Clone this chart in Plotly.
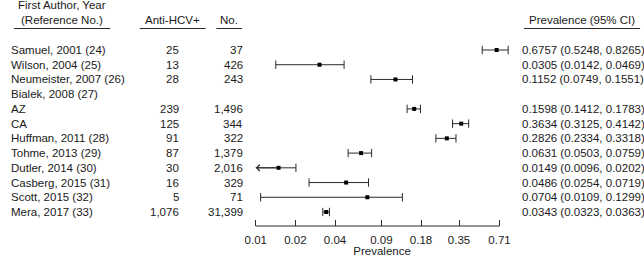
import math
import plotly.graph_objects as go

# ---------------- data ----------------
authors = ["Samuel, 2001 (24)", "Wilson, 2004 (25)", "Neumeister, 2007 (26)",
           "Bialek, 2008 (27)", "AZ", "CA", "Huffman, 2011 (28)", "Tohme, 2013 (29)",
           "Dutler, 2014 (30)", "Casberg, 2015 (31)", "Scott, 2015 (32)", "Mera, 2017 (33)"]
anti_hcv = ["25", "13", "28", "", "239", "125", "91", "87", "30", "16", "5", "1,076"]
totals = ["37", "426", "243", "", "1,496", "344", "322", "1,379", "2,016", "329", "71", "31,399"]
prev = [0.6757, 0.0305, 0.1152, None, 0.1598, 0.3634, 0.2826, 0.0631, 0.0149, 0.0486, 0.0704, 0.0343]
ci_lo = [0.5248, 0.0142, 0.0749, None, 0.1412, 0.3125, 0.2334, 0.0503, 0.0096, 0.0254, 0.0109, 0.0323]
ci_hi = [0.8265, 0.0469, 0.1551, None, 0.1783, 0.4142, 0.3318, 0.0759, 0.0202, 0.0719, 0.1299, 0.0363]
tick_vals = [0.01, 0.02, 0.04, 0.09, 0.18, 0.35, 0.71]
tick_text = ["0.01", "0.02", "0.04", "0.09", "0.18", "0.35", "0.71"]
x_min, x_max = 0.01, 0.71

# ---------------- layout geometry ----------------
W, H = 644, 258
MB = 32                      # bottom margin (axis line sits at plot bottom)
PH = H - MB                  # plot-area height
row0_px, rowN_px = 50, 212   # pixel centre of first and last row
n = len(authors)
step = (rowN_px - row0_px) / (n - 1)
y_top = -row0_px / step
y_bot = (n - 1) + (PH - rowN_px) / step

ax_left_px, ax_right_px = 250, 498
ppd = (ax_right_px - ax_left_px) / (math.log10(x_max) - math.log10(x_min))
r_lo, r_hi = math.log10(x_min) - 0.01, math.log10(0.85)
dom_l = (ax_left_px - (math.log10(x_min) - r_lo) * ppd) / W
dom_r = (ax_left_px + (r_hi - math.log10(x_min)) * ppd) / W

FONT = "Arial, Liberation Sans, sans-serif"
TXT = "#1a1a1a"
LINE = "#2a2a2a"
FS = 11.5

rows = list(range(n))

# ---------------- traces ----------------
line_x, line_y = [], []
cap_x, cap_y = [], []
arrows = []
for i in rows:
    if prev[i] is None:
        continue
    lo = max(ci_lo[i], x_min)
    line_x += [lo, ci_hi[i], None]
    line_y += [i, i, None]
    cap_x.append(ci_hi[i]); cap_y.append(i)
    if ci_lo[i] >= x_min:
        cap_x.append(ci_lo[i]); cap_y.append(i)
    else:
        arrows.append(i)

fig = go.Figure()
fig.add_trace(go.Scatter(x=line_x, y=line_y, mode="lines",
                         line=dict(color=LINE, width=1), hoverinfo="skip",
                         showlegend=False, cliponaxis=False))
fig.add_trace(go.Scatter(x=cap_x, y=cap_y, mode="markers",
                         marker=dict(symbol="line-ns", size=6,
                                     line=dict(color=LINE, width=1)),
                         hoverinfo="skip", showlegend=False, cliponaxis=False))
fig.add_trace(go.Scatter(x=[p for p in prev if p is not None],
                         y=[i for i in rows if prev[i] is not None], mode="markers",
                         marker=dict(symbol="square", size=4, color="#000"),
                         showlegend=False, cliponaxis=False))

annotations = []
for i in arrows:
    annotations.append(dict(x=math.log10(x_min), y=i, xref="x", yref="y",
                            ax=math.log10(prev[i]), ay=i, axref="x", ayref="y",
                            showarrow=True, arrowhead=4, arrowsize=1.2,
                            arrowwidth=1, arrowcolor=LINE, standoff=0, text=""))


def xp(px):
    return px / W


def yp(px):
    return 1 - px / PH


for i in rows:
    annotations.append(dict(x=xp(-1), y=i, xref="paper", yref="y", text=authors[i],
                            xanchor="left", yanchor="middle", showarrow=False))
    if anti_hcv[i]:
        annotations.append(dict(x=xp(174), y=i, xref="paper", yref="y", text=anti_hcv[i],
                                xanchor="right", yanchor="middle", showarrow=False))
    if totals[i]:
        annotations.append(dict(x=xp(239), y=i, xref="paper", yref="y", text=totals[i],
                                xanchor="right", yanchor="middle", showarrow=False))
    if prev[i] is not None:
        txt = f"{prev[i]:.4f} ({ci_lo[i]:.4f}, {ci_hi[i]:.4f})"
        annotations.append(dict(x=xp(519), y=i, xref="paper", yref="y", text=txt,
                                xanchor="left", yanchor="middle", showarrow=False))

headers = [("First Author, Year", 53, 5), ("(Reference No.)", 53, 20),
           ("Anti-HCV+", 165, 20), ("No.", 223, 20), ("Prevalence (95% CI)", 582, 20)]
for t, x, y in headers:
    annotations.append(dict(x=xp(x), y=yp(y), xref="paper", yref="paper", text=t,
                            xanchor="center", yanchor="middle", showarrow=False))

shapes = []
for x0, x1 in [(4, 102), (132, 199), (210, 236), (523, 641)]:
    shapes.append(dict(type="line", xref="paper", yref="paper", x0=xp(x0), x1=xp(x1),
                       y0=yp(28.5), y1=yp(28.5), line=dict(color=LINE, width=1)))
# x axis line from first to last tick
shapes.append(dict(type="line", xref="x", yref="paper", x0=x_min, x1=x_max,
                   y0=0, y1=0, line=dict(color=LINE, width=1)))

fig.update_layout(
    width=W, height=H, margin=dict(l=0, r=0, t=0, b=MB),
    paper_bgcolor="white", plot_bgcolor="white",
    font=dict(family=FONT, size=FS, color=TXT),
    annotations=annotations, shapes=shapes, showlegend=False,
    xaxis=dict(type="log", range=[r_lo, r_hi], domain=[dom_l, dom_r],
               tickvals=tick_vals, ticktext=tick_text, ticks="inside",
               ticklen=6, tickwidth=1, tickcolor=LINE, showline=False,
               showgrid=False, zeroline=False, ticklabelstandoff=5,
               tickfont=dict(family=FONT, size=FS, color=TXT),
               title=dict(text="Prevalence", standoff=0,
                          font=dict(family=FONT, size=FS, color=TXT))),
    yaxis=dict(range=[y_bot, y_top], visible=False, showgrid=False, zeroline=False),
)

fig.write_html("out.html", config={"displayModeBar": False},
               post_script="document.body.style.margin='0';document.body.style.overflow='hidden';")
